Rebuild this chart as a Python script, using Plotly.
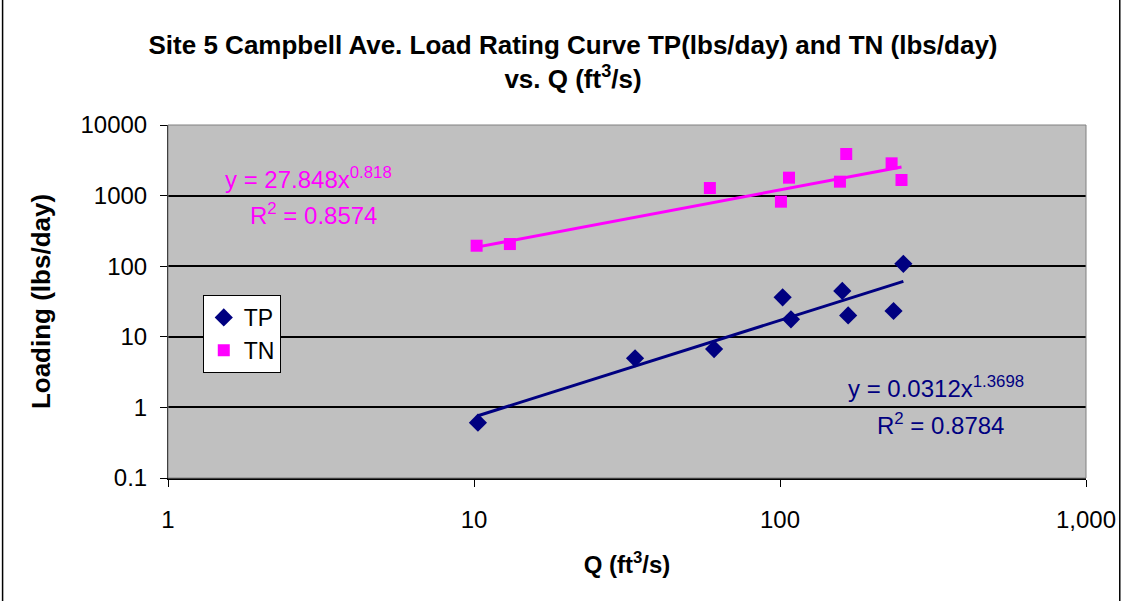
import numpy as np
import plotly.graph_objects as go

# Data
tp_q = [10.3, 33.6, 60.9, 102, 108.6, 159.8, 167, 235, 253]
tp_load = [0.607, 4.95, 6.71, 36.2, 17.7, 44.6, 20.1, 23.2, 108]
tn_q = [10.2, 13.1, 59, 100.7, 107, 157, 164.6, 231.6, 249.5]
tn_load = [195, 206, 1280, 820, 1794, 1575, 3883, 2865, 1664]

# Power trendline coefficients shown on the chart (y = a * x^b)
tp_fit = [0.0312, 1.3698]
tn_fit = [27.848, 0.818]

x_ticks = [1, 10, 100, 1000]
x_ticklabels = ["1", "10", "100", "1,000"]
y_ticks = [0.1, 1, 10, 100, 1000, 10000]
y_ticklabels = ["0.1", "1", "10", "100", "1000", "10000"]

W, H = 1128, 601
ML, MR, MT, MB = 168, 36, 125, 123
PW, PH = W - ML - MR, H - MT - MB

NAVY = "#000080"
MAGENTA = "#FF00FF"
FONT = "Liberation Sans, Arial, sans-serif"

fig = go.Figure()

tp_x = np.geomspace(min(tp_q), max(tp_q), 60)
tn_x = np.geomspace(min(tn_q), max(tn_q), 60)
fig.add_trace(go.Scatter(x=tp_x, y=tp_fit[0] * tp_x ** tp_fit[1], mode="lines",
                         line=dict(color=NAVY, width=3), showlegend=False, hoverinfo="skip"))
fig.add_trace(go.Scatter(x=tn_x, y=tn_fit[0] * tn_x ** tn_fit[1], mode="lines",
                         line=dict(color=MAGENTA, width=3), showlegend=False, hoverinfo="skip"))

fig.add_trace(go.Scatter(x=tp_q, y=tp_load, mode="markers", name="TP",
                         marker=dict(symbol="diamond", size=14, color=NAVY)))
fig.add_trace(go.Scatter(x=tn_q, y=tn_load, mode="markers", name="TN",
                         marker=dict(symbol="square", size=12, color=MAGENTA)))

fig.update_layout(
    width=W, height=H,
    margin=dict(l=ML, r=MR, t=MT, b=MB),
    paper_bgcolor="white",
    plot_bgcolor="#C0C0C0",
    font=dict(family=FONT, color="black", size=20),
    title=dict(
        text="<b>Site 5 Campbell Ave. Load Rating Curve TP(lbs/day) and TN (lbs/day)<br>vs. Q (ft<sup>3</sup>/s)</b>",
        x=0.508, xanchor="center", y=0.91, yanchor="top",
        font=dict(size=26, family=FONT),
    ),
    showlegend=True,
    legend=dict(
        x=(203 - ML) / PW, y=(MT + PH - 295) / PH, xanchor="left", yanchor="top",
        bgcolor="white", bordercolor="black", borderwidth=1,
        font=dict(size=23, family=FONT), itemsizing="trace",
    ),
    xaxis=dict(
        type="log", range=[0, 3],
        tickvals=x_ticks, ticktext=x_ticklabels,
        showgrid=False, zeroline=False,
        showline=True, linecolor="black", linewidth=2, mirror=False,
        ticks="outside", ticklen=7, tickcolor="black", tickwidth=1,
        ticklabelstandoff=12,
        tickfont=dict(size=24, family=FONT),
        title=dict(text="<b>Q (ft<sup>3</sup>/s)</b>", font=dict(size=24, family=FONT), standoff=24),
    ),
    yaxis=dict(
        type="log", range=[-1, 4],
        tickvals=y_ticks, ticktext=y_ticklabels,
        showgrid=True, gridcolor="black", gridwidth=1.5,
        zeroline=False,
        showline=True, linecolor="black", linewidth=1, mirror=False,
        ticks="outside", ticklen=7, tickcolor="black", tickwidth=1,
        ticklabelstandoff=8,
        tickfont=dict(size=24, family=FONT),
        title=dict(text="<b>Loading (lbs/day)</b>", font=dict(size=26, family=FONT), standoff=22),
    ),
)

# plot area border (gray)
fig.add_shape(type="rect", xref="paper", yref="paper", x0=0, y0=0, x1=1, y1=1,
              line=dict(color="#808080", width=1), layer="above")
# outer chart border (left and right edges)
for px in (1.5, W - 2):
    fig.add_shape(type="line", xref="paper", yref="paper",
                  x0=(px - ML) / PW, x1=(px - ML) / PW,
                  y0=-(MB + 2) / PH, y1=(PH + MT + 2) / PH,
                  line=dict(color="black", width=1.5))

ann = [
    ("y = 27.848x<sup>0.818</sup>", 0.180, 3.25, MAGENTA),
    ("R<sup>2</sup> = 0.8574", 0.260, 2.74, MAGENTA),
    ("y = 0.0312x<sup>1.3698</sup>", 2.216, 0.29, NAVY),
    ("R<sup>2</sup> = 0.8784", 2.310, -0.235, NAVY),
]
for text, lx, ly, col in ann:
    fig.add_annotation(text=text, x=lx, y=ly, xref="x", yref="y",
                       xanchor="left", yanchor="middle", showarrow=False,
                       font=dict(size=24, color=col, family=FONT))

fig.write_html("out.html", config={"displayModeBar": False},
               post_script="document.body.style.margin='0px';")
